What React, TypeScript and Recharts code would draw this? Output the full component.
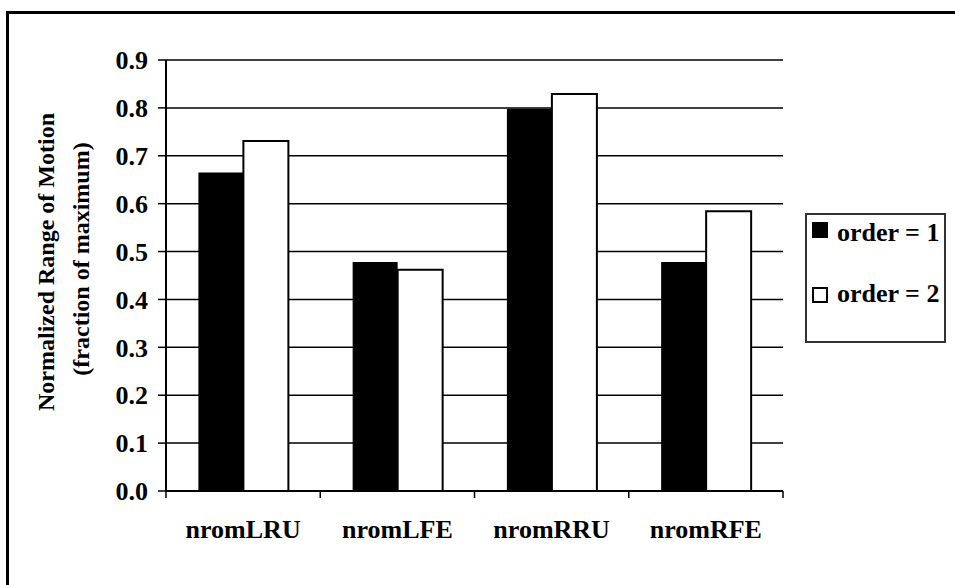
import React from 'react';
import { BarChart, Bar, XAxis, YAxis, CartesianGrid } from 'recharts';

const categories = ['nromLRU', 'nromLFE', 'nromRRU', 'nromRFE'];
const order1 = [0.665, 0.478, 0.798, 0.478];
const order2 = [0.731, 0.462, 0.829, 0.584];
const yTicks = [0, 0.1, 0.2, 0.3, 0.4, 0.5, 0.6, 0.7, 0.8, 0.9];
const seriesNames = ['order = 1', 'order = 2'];

const data = categories.map((c, i) => ({ cat: c, order1: order1[i], order2: order2[i] }));

const W = 955;
const H = 585;
const LEFT = 166;
const RIGHT = 172;
const TOP = 60;
const XH = 94;
const BAND = (W - LEFT - RIGHT) / categories.length;
const FONT = '"Liberation Serif", "Times New Roman", serif';

function XTick(props: any) {
  const { x, y, payload, index } = props;
  const half = BAND / 2;
  return (
    <g>
      <line x1={x - half} x2={x - half} y1={y} y2={y + 7} stroke="#000" strokeWidth={1.5} />
      {index === categories.length - 1 && (
        <line x1={x + half} x2={x + half} y1={y} y2={y + 7} stroke="#000" strokeWidth={1.5} />
      )}
      <text x={x} y={y + 47} textAnchor="middle" fontFamily={FONT} fontWeight="bold" fontSize={26} fill="#000">
        {payload.value}
      </text>
    </g>
  );
}

function YLabel() {
  return (
    <g>
      <text x={54} y={262} transform="rotate(-90, 54, 262)" textAnchor="middle" fontFamily={FONT} fontWeight="bold" fontSize={24} fill="#000">
        Normalized Range of Motion
      </text>
      <text x={89} y={259} transform="rotate(-90, 89, 259)" textAnchor="middle" fontFamily={FONT} fontWeight="bold" fontSize={24} fill="#000">
        (fraction of maximum)
      </text>
    </g>
  );
}

function LegendBox() {
  const txt: React.CSSProperties = {
    position: 'absolute',
    left: 30,
    fontFamily: FONT,
    fontWeight: 'bold',
    fontSize: 26,
    lineHeight: '26px',
    color: '#000',
    whiteSpace: 'nowrap',
  };
  return (
    <div style={{ position: 'absolute', left: 805, top: 213, width: 141, height: 130, border: '2px solid #333', boxSizing: 'border-box', background: '#fff' }}>
      <div style={{ position: 'absolute', left: 5, top: 7, width: 16, height: 16, background: '#000' }} />
      <div style={{ ...txt, top: 5 }}>{seriesNames[0]}</div>
      <div style={{ position: 'absolute', left: 5, top: 72, width: 16, height: 16, background: '#fff', border: '2px solid #000', boxSizing: 'border-box' }} />
      <div style={{ ...txt, top: 66 }}>{seriesNames[1]}</div>
    </div>
  );
}

export default function App() {
  return (
    <div style={{ position: 'absolute', left: 0, top: 0, width: W, height: H, overflow: 'hidden', background: '#fff' }}>
      <div style={{ position: 'absolute', left: 6, top: 11, width: W + 20, height: H + 20, borderLeft: '3px solid #000', borderTop: '3px solid #000' }} />
      <div style={{ position: 'absolute', left: 0, top: 0 }}>
        <BarChart
          width={W}
          height={H}
          data={data}
          margin={{ top: TOP, right: RIGHT, bottom: 0, left: 0 }}
          barCategoryGap="21%"
          barGap={0}
        >
          <CartesianGrid horizontal vertical={false} stroke="#000" strokeWidth={1.5} />
          <XAxis
            dataKey="cat"
            height={XH}
            axisLine={{ stroke: '#000', strokeWidth: 2 }}
            tickLine={false}
            tickSize={0}
            tickMargin={0}
            tick={<XTick />}
            interval={0}
          />
          <YAxis
            width={LEFT}
            domain={[0, 0.9]}
            ticks={yTicks}
            interval={0}
            tickFormatter={(v: number) => v.toFixed(1)}
            axisLine={{ stroke: '#000', strokeWidth: 2 }}
            tickLine={{ stroke: '#000', strokeWidth: 1.5 }}
            tickSize={8}
            tickMargin={10}
            tick={{ fontFamily: FONT, fontWeight: 'bold', fontSize: 26, fill: '#000' }}
            label={{ content: () => <YLabel /> }}
          />
          <YAxis
            yAxisId="r"
            orientation="right"
            width={0}
            tick={false}
            tickLine={false}
            axisLine={{ stroke: '#222', strokeWidth: 2.5 }}
          />
          <Bar dataKey="order1" name={seriesNames[0]} fill="#000" isAnimationActive={false} />
          <Bar dataKey="order2" name={seriesNames[1]} fill="#fff" stroke="#000" strokeWidth={2} isAnimationActive={false} />
        </BarChart>
      </div>
      <LegendBox />
    </div>
  );
}
